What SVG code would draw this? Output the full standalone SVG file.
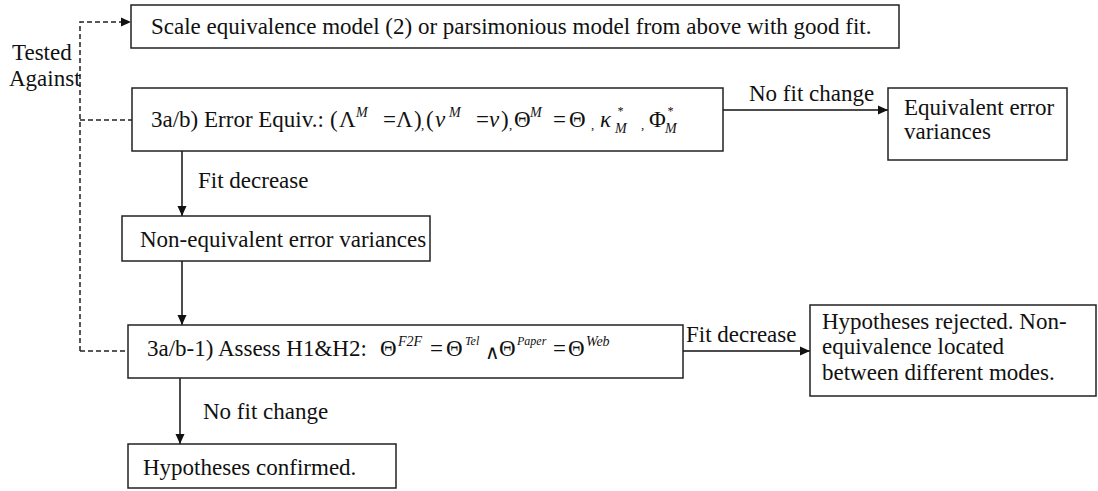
<svg xmlns="http://www.w3.org/2000/svg" width="1098" height="491" viewBox="0 0 1098 491">
<style>
.box{fill:#fff;stroke:#222;stroke-width:1.5}
.t{font-family:"Liberation Serif","Times New Roman",serif;font-size:23px;fill:#111}
.sup{font-size:14px;font-style:italic}
.sm{font-size:12px;font-style:italic}
.it{font-style:italic}
.cm{font-size:13px}
.ln{stroke:#111;stroke-width:1.5;fill:none}
.dash{stroke:#222;stroke-width:1.5;fill:none;stroke-dasharray:5,3}
</style>
<defs>
<marker id="ah" markerUnits="userSpaceOnUse" markerWidth="11" markerHeight="10" refX="10" refY="5" orient="auto">
<path d="M0,0.5 L10,5 L0,9.5 z" fill="#111"/>
</marker>
</defs>

<g id="connectors">
<path class="dash" d="M80,351 V22 H121"/>
<path d="M121,17.5 L131,22 L121,26.5 z" fill="#111"/>
<path class="dash" d="M80,120 H132"/>
<path class="dash" d="M80,351 H128"/>
<path class="ln" d="M723,110 H888" marker-end="url(#ah)"/>
<path class="ln" d="M182,151 V216" marker-end="url(#ah)"/>
<path class="ln" d="M182,261 V325" marker-end="url(#ah)"/>
<path class="ln" d="M683,351 H810" marker-end="url(#ah)"/>
<path class="ln" d="M180,378 V444" marker-end="url(#ah)"/>
<text class="t" x="749" y="101">No fit change</text>
<text class="t" x="198" y="188">Fit decrease</text>
<text class="t" x="686" y="342">Fit decrease</text>
<text class="t" x="203" y="419">No fit change</text>
<text class="t" x="12" y="60">Tested</text>
<text class="t" x="9" y="86">Against</text>
</g>

<g id="n1">
<rect class="box" x="131" y="5" width="768" height="43"/>
<text class="t" x="151" y="34">Scale equivalence model (2) or parsimonious model from above with good fit.</text>
</g>

<g id="n2">
<rect class="box" x="132" y="88" width="591" height="63"/>
<text class="t" y="127"><tspan x="151">3a/b) Error Equiv.:</tspan><tspan x="330">(</tspan><tspan x="339">Λ</tspan><tspan x="356" y="117" class="sup">M</tspan><tspan x="383" y="127">=</tspan><tspan x="396">Λ</tspan><tspan x="414">)</tspan><tspan x="421" y="129" class="cm">,</tspan><tspan x="426" y="127">(</tspan><tspan x="435" class="it">ν</tspan><tspan x="449" y="117" class="sup">M</tspan><tspan x="476" y="127">=</tspan><tspan x="489" class="it">ν</tspan><tspan x="501">)</tspan><tspan x="509" y="129" class="cm">,</tspan><tspan x="514" y="127">Θ</tspan><tspan x="530" y="117" class="sup">M</tspan><tspan x="553" y="127">=</tspan><tspan x="569">Θ</tspan><tspan x="591" y="129" class="cm">,</tspan><tspan x="600" y="127" class="it">κ</tspan><tspan x="617" y="115" class="sm">*</tspan><tspan x="615" y="133" class="sup">M</tspan><tspan x="641" y="129" class="cm">,</tspan><tspan x="649" y="127">Φ</tspan><tspan x="667" y="115" class="sm">*</tspan><tspan x="665" y="133" class="sup">M</tspan></text>
</g>

<g id="n3">
<rect class="box" x="888" y="88" width="179" height="72"/>
<text class="t" x="904" y="115">Equivalent error</text>
<text class="t" x="904" y="139">variances</text>
</g>

<g id="n4">
<rect class="box" x="122" y="216" width="308" height="45"/>
<text class="t" x="140" y="247">Non-equivalent error variances</text>
</g>

<g id="n5">
<rect class="box" x="128" y="325" width="555" height="53"/>
<text class="t" y="356"><tspan x="147">3a/b-1) Assess H1&amp;H2:</tspan><tspan x="380">Θ</tspan><tspan x="398" y="346" class="sup">F2F</tspan><tspan x="430" y="356">=</tspan><tspan x="446">Θ</tspan><tspan x="465" y="345" class="sm">Tel</tspan><tspan x="485" y="359" style="font-size:20px">∧</tspan><tspan x="499" y="356">Θ</tspan><tspan x="517" y="345" class="sm">Paper</tspan><tspan x="553" y="356">=</tspan><tspan x="568">Θ</tspan><tspan x="586" y="346" class="sup">Web</tspan></text>
</g>

<g id="n6">
<rect class="box" x="810" y="305" width="286" height="91"/>
<text class="t" x="822" y="329">Hypotheses rejected. Non-</text>
<text class="t" x="822" y="354">equivalence located</text>
<text class="t" x="822" y="380">between different modes.</text>
</g>

<g id="n7">
<rect class="box" x="128" y="444" width="268" height="44"/>
<text class="t" x="143" y="475">Hypotheses confirmed.</text>
</g>
</svg>
